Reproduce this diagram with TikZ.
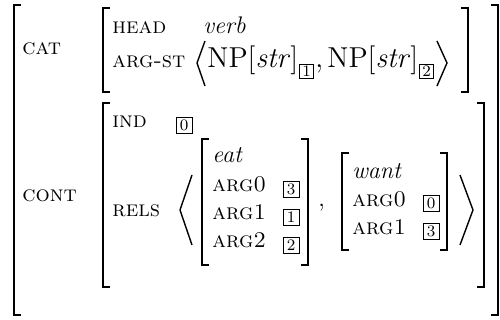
\documentclass[tikz,border=0pt,12pt]{standalone}
\usetikzlibrary{positioning}

\tikzset{
  brk/.style={line width=0.8pt},
  ang/.style={line width=0.7pt},
  feat/.style={anchor=base west, inner sep=0pt, font=\fontsize{11.2}{13}\selectfont\scshape},
  val/.style={anchor=base west, inner sep=0pt},
  tag/.style={draw, line width=0.4pt, minimum size=8pt, inner sep=0pt, font=\scriptsize},
  subtag/.style={tag, minimum size=7pt, font=\scriptsize},
}

\begin{document}
\begin{tikzpicture}[x=0.5pt,y=-0.5pt]
  \useasboundingbox (0,0) rectangle (500,320);
  % square brackets: outer, CAT, CONT, eat, want
  \foreach \xl/\xr/\yt/\yb in {14/498/5/315, 103/468/8/92, 103/484/103/287,
                               202/308/139/265, 342/447/153/250} {
    \draw[brk] (\xl+7,\yt) -- (\xl,\yt) -- (\xl,\yb) -- (\xl+7,\yb);
    \draw[brk] (\xr-7,\yt) -- (\xr,\yt) -- (\xr,\yb) -- (\xr-7,\yb);
  }
  % top level features
  \node[feat] (cat) at (22,55) {cat};
  \node[feat] (cont) at (22,202) {cont};
  % CAT value
  \node[feat] (head) at (112,34) {head};
  \node[val] (verb) at (203,34) {\textit{verb}};
  \node[feat] (argst) at (112,68) {arg-st};
  \draw[ang] (205,41) -- (197,63) -- (205,86);
  \node[val, font=\large] (np1) at (207,68) {NP[\textit{str}]};
  \node[subtag, anchor=north west] (s1) at ([xshift=0.3pt,yshift=2pt]np1.base east) {1};
  \node[val, font=\large] (c1) at ([xshift=0.5pt]s1.east |- np1.base) {,};
  \node[val, font=\large] (np2) at (327,68) {NP[\textit{str}]};
  \node[subtag, anchor=north west] (s2) at ([xshift=0.3pt,yshift=2pt]np2.base east) {2};
  \draw[ang] (437,41) -- (447,63) -- (437,86);
  % CONT value
  \node[feat] (ind) at (112,128) {ind};
  \node[tag] (t0) at (184,125) {0};
  \node[feat] (rels) at (112,217) {rels};
  \draw[ang] (192,175) -- (180,210) -- (192,245);
  % first relation
  \node[val] (eat) at (212,163) {\textit{eat}};
  \node[feat] (e0) at (212,192) {arg0};
  \node[feat] (e1) at (212,220) {arg1};
  \node[feat] (e2) at (212,248) {arg2};
  \node[tag] (e0t) at (291,189) {3};
  \node[tag] (e1t) at (291,217) {1};
  \node[tag] (e2t) at (291,245) {2};
  \node[val] (c2) at (318,207) {,};
  % second relation
  \node[val] (want) at (352,179) {\textit{want}};
  \node[feat] (w0) at (352,207) {arg0};
  \node[feat] (w1) at (352,235) {arg1};
  \node[tag] (w0t) at (431,203) {0};
  \node[tag] (w1t) at (431,231) {3};
  \draw[ang] (460,175) -- (473,210) -- (460,245);
\end{tikzpicture}
\end{document}
